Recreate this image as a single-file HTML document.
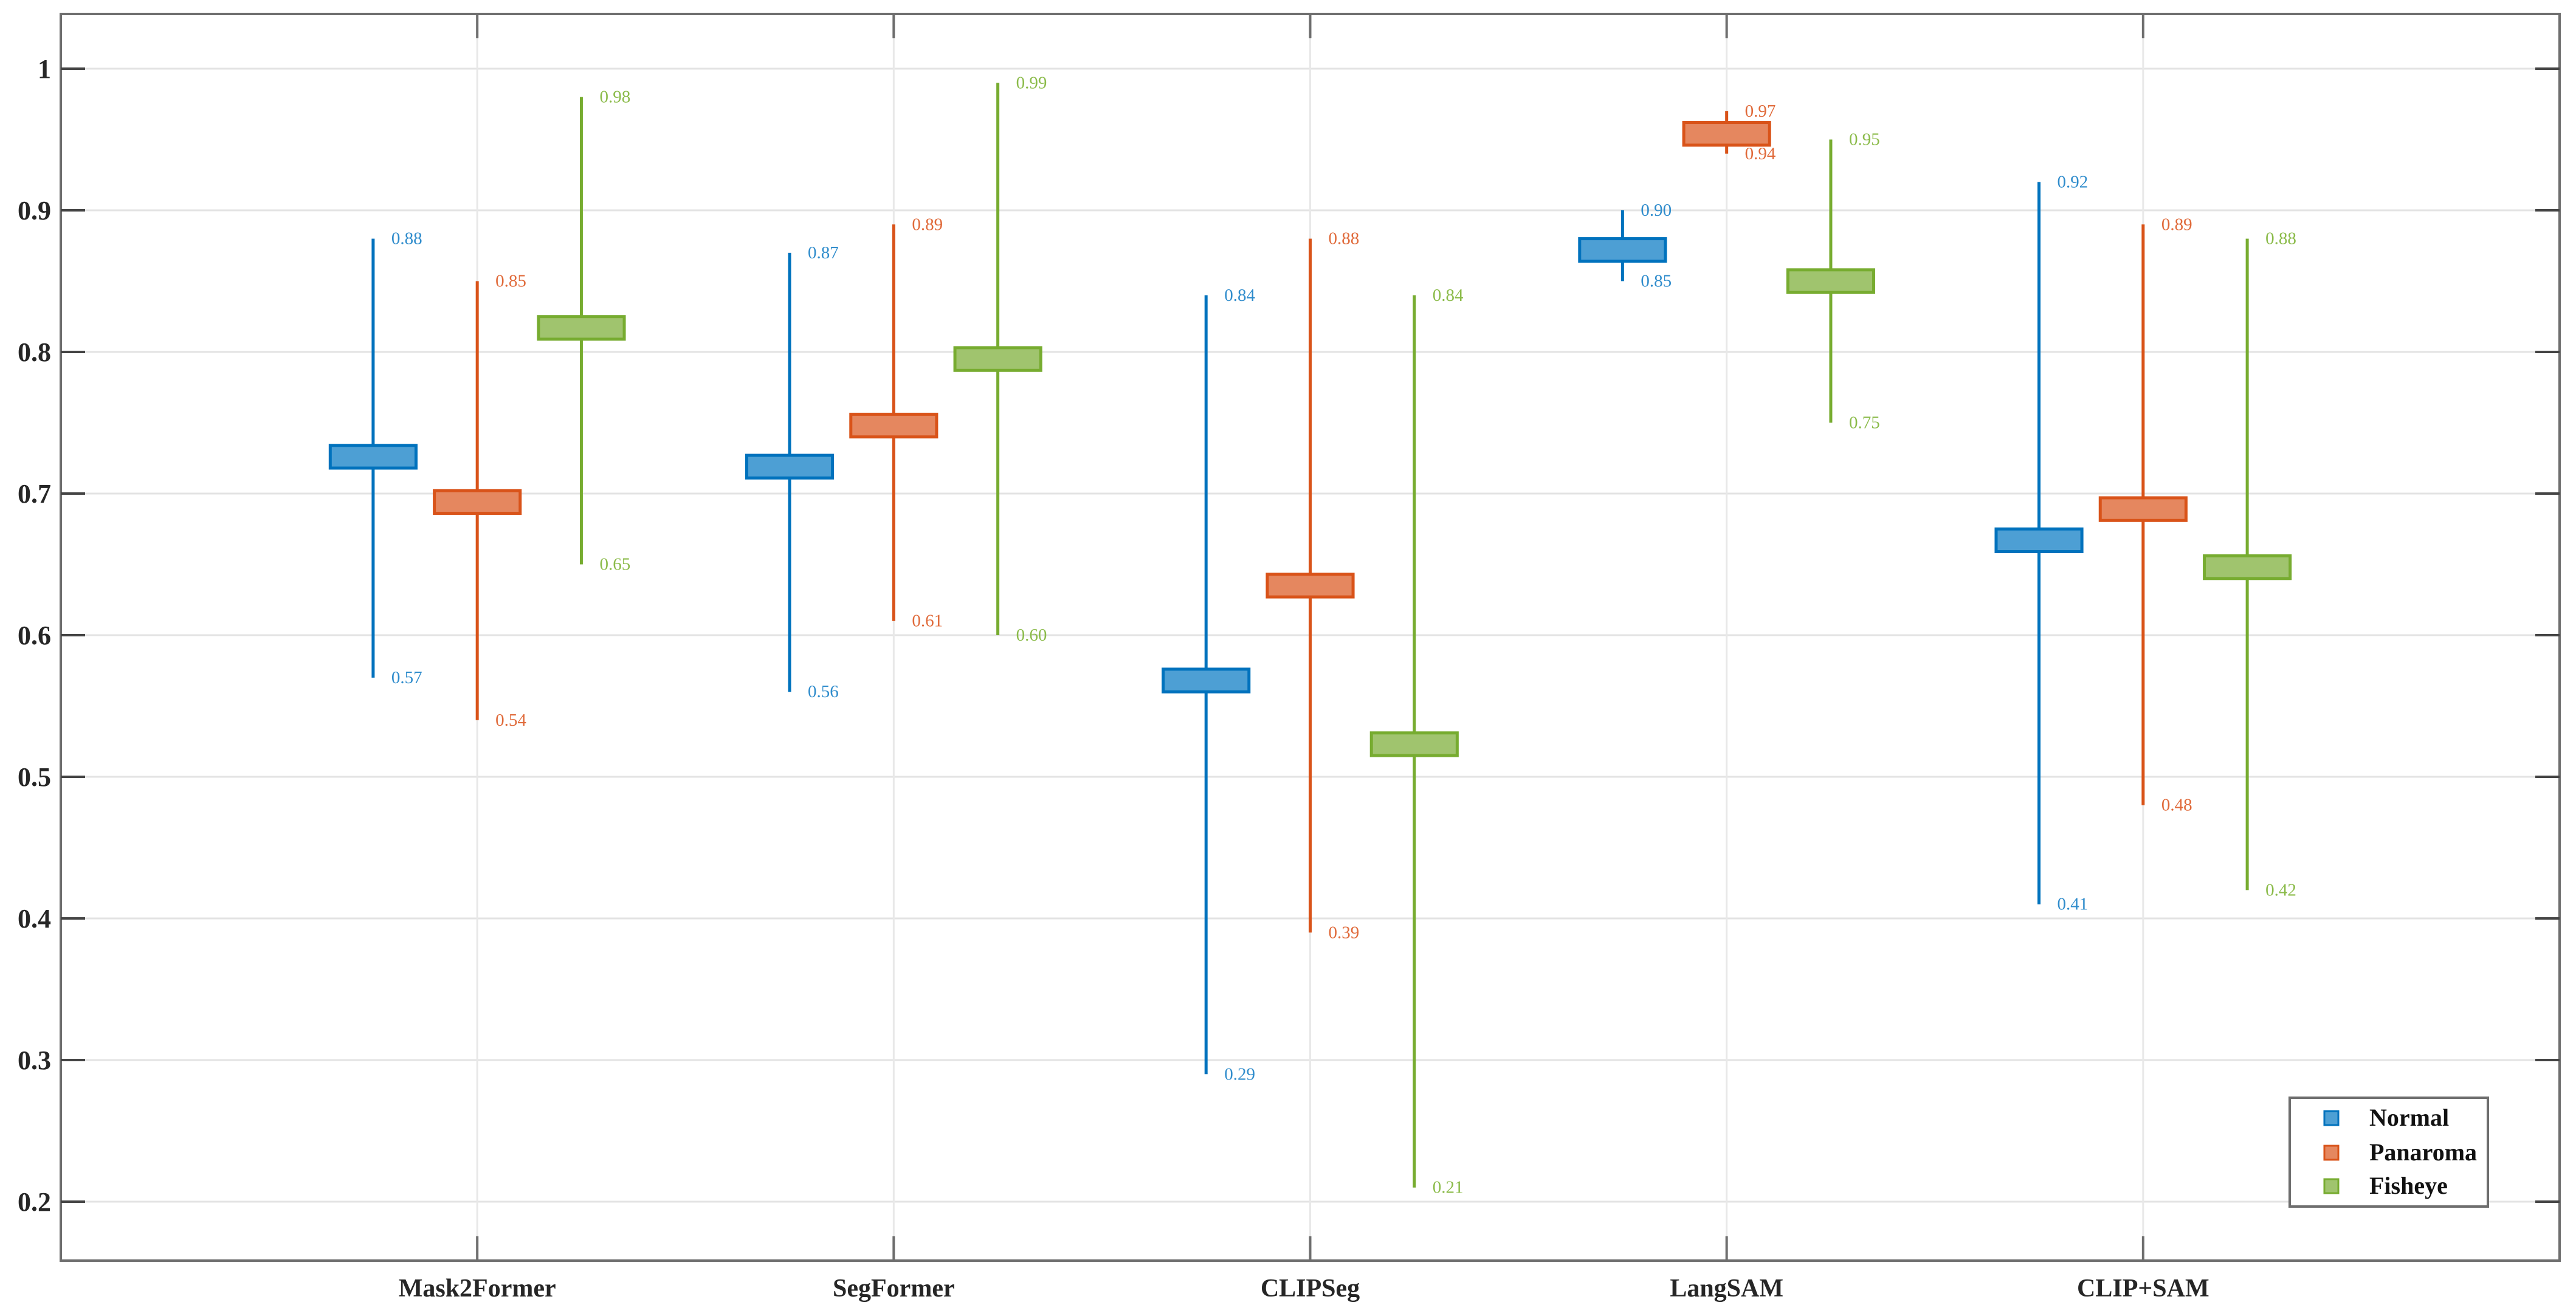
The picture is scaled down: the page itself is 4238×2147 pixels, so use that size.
<!DOCTYPE html>
<html><head><meta charset="utf-8"><style>
html,body{margin:0;padding:0;background:#fff;}
svg{display:block;}
</style></head><body>
<svg id="chart" width="4238" height="2147" xmlns="http://www.w3.org/2000/svg" font-family="'Liberation Serif', serif"></svg>
<script>
const categories = ['Mask2Former','SegFormer','CLIPSeg','LangSAM','CLIP+SAM'];
const seriesNames = ['Normal','Panaroma','Fisheye'];
const normalMean = [0.726,0.719,0.568,0.872,0.667];
const normalMax  = [0.88,0.87,0.84,0.90,0.92];
const normalMin  = [0.57,0.56,0.29,0.85,0.41];
const panMean = [0.694,0.748,0.635,0.954,0.689];
const panMax  = [0.85,0.89,0.88,0.97,0.89];
const panMin  = [0.54,0.61,0.39,0.94,0.48];
const fishMean = [0.817,0.795,0.523,0.850,0.648];
const fishMax  = [0.98,0.99,0.84,0.95,0.88];
const fishMin  = [0.65,0.60,0.21,0.75,0.42];
const yTicks = [0.2,0.3,0.4,0.5,0.6,0.7,0.8,0.9,1];
const yTickLabels = ['0.2','0.3','0.4','0.5','0.6','0.7','0.8','0.9','1'];

const L=100,R=4211,T=23,B=2074;
const X0=0,X1=6;
const yTop=113, perUnit=2330;
function y(v){return yTop+(1-v)*perUnit;}
function x(i){return L+(i+1-X0)*(R-L)/(X1-X0);}
const unit=(R-L)/(X1-X0);
const NS='http://www.w3.org/2000/svg';
const svg=document.getElementById('chart');
function mk(tag,attrs,parent){const e=document.createElementNS(NS,tag);for(const k in attrs)e.setAttribute(k,attrs[k]);(parent||svg).appendChild(e);return e;}

const edge=['#0072BD','#D95319','#77AC30'];
const fill=['#4d9fd4','#e5875f','#a0c46e'];
const lbl=['#2f8ccc','#e06a3a','#8bbb4a'];
const means=[normalMean,panMean,fishMean], maxs=[normalMax,panMax,fishMax], mins=[normalMin,panMin,fishMin];

// grid
const grid=mk('g',{});


yTicks.forEach(v=>{const l=mk('line',{x1:L,x2:R,y1:y(v),y2:y(v),stroke:'#e3e3e3','stroke-width':3},grid);

});
categories.forEach((c,i)=>{const l=mk('line',{x1:x(i),x2:x(i),y1:T,y2:B,stroke:'#e8e8e8','stroke-width':3},grid);

});

// series
const halfW=0.103*unit, halfH=0.008*perUnit;
for(let s=0;s<3;s++){
  const g=mk('g',{});
  
  
  categories.forEach((c,i)=>{
    const cx=x(i)+(s-1)*0.25*unit;
    const wl=mk('line',{x1:cx,x2:cx,y1:y(maxs[s][i]),y2:y(mins[s][i]),stroke:edge[s],'stroke-width':5},g);
    
    
    const r=mk('rect',{x:cx-halfW,y:y(means[s][i])-halfH,width:2*halfW,height:2*halfH,fill:fill[s],stroke:edge[s],'stroke-width':5},g);
    
    
    [maxs[s][i],mins[s][i]].forEach((v,k)=>{
      const t=mk('text',{x:cx+30,y:y(v)+9,fill:lbl[s],'font-size':29},g);
      t.textContent=v.toFixed(2);
      
      
    });
  });
}

// axes box
const ax=mk('g',{});


mk('rect',{x:L,y:T,width:R-L,height:B-T,fill:'none',stroke:'#6e6e6e','stroke-width':4},ax);
yTicks.forEach((v,k)=>{
  mk('line',{x1:L,x2:L+40,y1:y(v),y2:y(v),stroke:'#444','stroke-width':4},ax);
  mk('line',{x1:R-40,x2:R,y1:y(v),y2:y(v),stroke:'#444','stroke-width':4},ax);
  const t=mk('text',{x:84,y:y(v)+15,'text-anchor':'end','font-size':44,'font-weight':'bold',fill:'#262626'},ax);
  t.textContent=yTickLabels[k];
  
  
});
categories.forEach((c,i)=>{
  mk('line',{x1:x(i),x2:x(i),y1:T,y2:T+40,stroke:'#6e6e6e','stroke-width':4},ax);
  mk('line',{x1:x(i),x2:x(i),y1:B-40,y2:B,stroke:'#6e6e6e','stroke-width':4},ax);
  const t=mk('text',{x:x(i),y:2133,'text-anchor':'middle','font-size':42,'font-weight':'bold',fill:'#262626'},ax);
  t.textContent=c;
  
  
});

// legend
const lg=mk('g',{});


mk('rect',{x:3767,y:1806,width:326,height:179,fill:'#fff',stroke:'#6e6e6e','stroke-width':4},lg);
const legY=[1839,1896,1951];
seriesNames.forEach((n,s)=>{
  const e=mk('g',{},lg);
  
  
  mk('rect',{x:3824,y:legY[s]-11,width:23,height:23,fill:fill[s],stroke:edge[s],'stroke-width':3},e);
  const t=mk('text',{x:3898,y:legY[s]+13,'font-size':40,'font-weight':'bold',fill:'#111'},e);
  t.textContent=n;
});
</script>
</body></html>
